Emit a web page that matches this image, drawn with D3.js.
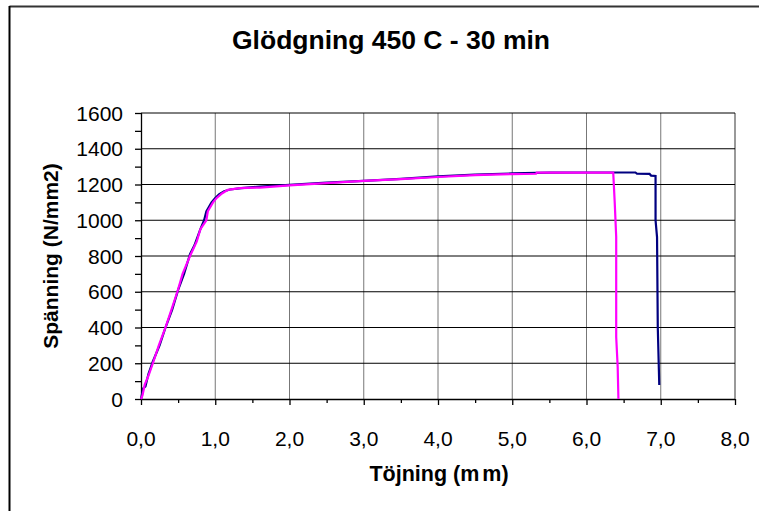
<!DOCTYPE html>
<html>
<head>
<meta charset="utf-8">
<script src="https://cdnjs.cloudflare.com/ajax/libs/d3/7.8.5/d3.min.js"></script>
<style>
  body { margin: 0; background: #fff; }
  svg text { font-family: "Liberation Sans", Arial, sans-serif; fill: #000; }
</style>
</head>
<body>
<svg width="759" height="511"></svg>
<script>
// strain (mm) / stress (N/mm2) pairs
const provBlue = [
  [0, 0], [0.03, 60], [0.06, 70], [0.1, 140], [0.16, 210], [0.25, 300], [0.33, 400],
  [0.42, 500], [0.5, 610], [0.58, 700], [0.66, 810], [0.72, 860], [0.8, 950],
  [0.85, 1000], [0.88, 1050], [0.95, 1100], [1.0, 1125], [1.05, 1145], [1.12, 1162],
  [1.2, 1172], [1.35, 1180], [1.6, 1188], [2.0, 1198], [2.5, 1210], [3.0, 1220],
  [3.5, 1232], [4.0, 1245], [4.5, 1255], [5.0, 1262], [5.5, 1266], [6.0, 1267],
  [6.66, 1267], [6.68, 1260], [6.85, 1259], [6.87, 1250], [6.93, 1248], [6.93, 1000],
  [6.95, 906], [6.96, 403], [6.98, 78]
];
const provMagenta = [
  [0, 0], [0.02, 20], [0.05, 80], [0.1, 130], [0.16, 200], [0.24, 300], [0.33, 400],
  [0.41, 500], [0.49, 600], [0.56, 700], [0.66, 800], [0.75, 880], [0.8, 950],
  [0.88, 1000], [0.9, 1050], [0.97, 1100], [1.02, 1125], [1.09, 1150], [1.17, 1170],
  [1.33, 1180], [1.6, 1183], [2.0, 1195], [2.5, 1208], [3.0, 1220], [3.5, 1230],
  [4.0, 1242], [4.5, 1252], [5.0, 1258], [5.32, 1260], [5.33, 1266], [6.36, 1266],
  [6.38, 1100], [6.40, 906], [6.40, 347], [6.42, 179], [6.43, 0]
];
const xTicks = [0, 1, 2, 3, 4, 5, 6, 7, 8];
const yTicks = [0, 200, 400, 600, 800, 1000, 1200, 1400, 1600];

const svg = d3.select("svg");

// outer frame (only top and left edges show in the picture)
svg.append("line").attr("x1", 9.5).attr("x2", 759).attr("y1", 6.5).attr("y2", 6.5)
  .attr("stroke", "#333").attr("stroke-width", 2);
svg.append("line").attr("x1", 9.5).attr("x2", 9.5).attr("y1", 6).attr("y2", 511)
  .attr("stroke", "#000").attr("stroke-width", 2);

const plotL = 141, plotR = 735, plotT = 113, plotB = 399;

const x = d3.scaleLinear().domain([0, 8]).range([plotL, plotR]);
const y = d3.scaleLinear().domain([0, 1600]).range([plotB, plotT]);

// grid
svg.append("g").selectAll("line").data(xTicks.slice(1)).join("line")
  .attr("x1", d => x(d)).attr("x2", d => x(d))
  .attr("y1", plotT).attr("y2", plotB)
  .attr("stroke", d => d === 8 ? "#999" : "#777")
  .attr("stroke-width", d => d === 8 ? 2 : 1);
svg.append("g").selectAll("line").data(yTicks.slice(1)).join("line")
  .attr("x1", plotL).attr("x2", plotR)
  .attr("y1", d => y(d)).attr("y2", d => y(d))
  .attr("stroke", "#000").attr("stroke-width", 1);

// axes
const yAxis = svg.append("g")
  .attr("transform", `translate(${plotL},0)`)
  .call(d3.axisLeft(y).tickValues(d3.range(0, 1601, 100)).tickSize(6).tickFormat(""));
const xAxis = svg.append("g")
  .attr("transform", `translate(0,${plotB})`)
  .call(d3.axisBottom(x).tickValues(xTicks).tickSize(6).tickFormat(""));
svg.append("g")
  .attr("transform", `translate(0,${plotB})`)
  .call(d3.axisBottom(x).tickValues(d3.range(0.5, 8, 1)).tickSize(4).tickFormat(""))
  .call(g => g.selectAll("line").attr("stroke", "#000").attr("stroke-width", 1.3))
  .select(".domain").remove();
[yAxis, xAxis].forEach(a => {
  a.selectAll("path, line").attr("stroke", "#000").attr("stroke-width", 1.3);
});
yAxis.select(".domain").attr("d", `M0.5,${plotT}V${plotB}`);
xAxis.select(".domain").attr("d", `M${plotL},0.5H${plotR}`);

// tick labels
svg.append("g").selectAll("text").data(yTicks).join("text")
  .attr("x", 123).attr("y", d => y(d) + 7.5)
  .attr("text-anchor", "end")
  .style("font-size", "21px")
  .text(d => d);
svg.append("g").selectAll("text").data(xTicks).join("text")
  .attr("x", d => x(d)).attr("y", 446)
  .attr("text-anchor", "middle")
  .style("font-size", "21px")
  .text(d => d.toFixed(1).replace(".", ","));

// lines
const line = d3.line().x(d => x(d[0])).y(d => y(d[1]));
svg.append("path").datum(provBlue)
  .attr("d", line).attr("fill", "none")
  .attr("stroke", "#000080").attr("stroke-width", 2.2);
svg.append("path").datum(provMagenta)
  .attr("d", line).attr("fill", "none")
  .attr("stroke", "#ff00ff").attr("stroke-width", 2.2);

// titles
svg.append("text")
  .attr("x", 391).attr("y", 49)
  .attr("text-anchor", "middle")
  .style("font-size", "26.5px").style("font-weight", "bold")
  .text("Glödgning 450 C - 30 min");

const xt = svg.append("text")
  .attr("x", 439).attr("y", 481)
  .attr("text-anchor", "middle")
  .style("font-size", "21.5px").style("font-weight", "bold");
xt.append("tspan").text("Töjning (m");
xt.append("tspan").attr("dx", 3).text("m)");

svg.append("text")
  .attr("transform", "translate(57.5,256) rotate(-90)")
  .attr("text-anchor", "middle")
  .style("font-size", "21px").style("font-weight", "bold")
  .text("Spänning (N/mm2)");
</script>
</body>
</html>
